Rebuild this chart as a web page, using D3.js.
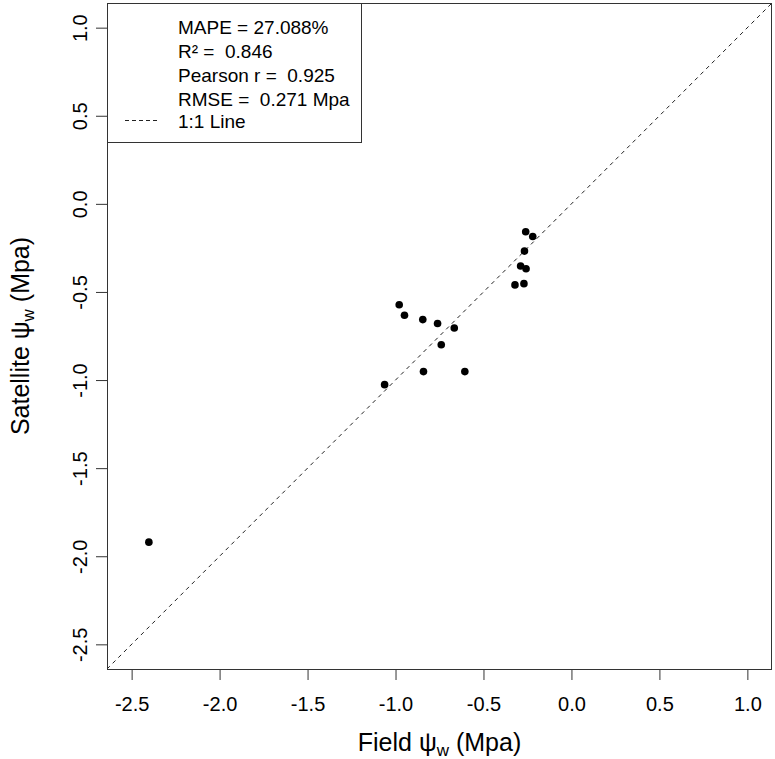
<!DOCTYPE html>
<html>
<head>
<meta charset="utf-8">
<script src="https://cdn.jsdelivr.net/npm/d3@7"></script>
<style>
  html, body { margin: 0; padding: 0; background: #fff; }
  svg { display: block; font-family: "Liberation Sans", Arial, sans-serif; }
  text { white-space: pre; }
</style>
</head>
<body>
<svg id="chart" width="775" height="759"></svg>
<script>
// ---- data ----
const fieldPsi = [-0.26, -0.22, -0.267, -0.289, -0.258, -0.321, -0.27, -0.979, -0.949, -0.845, -0.761, -0.666, -0.74, -0.841, -0.606, -1.062, -2.402];
const satellitePsi = [-0.158, -0.185, -0.268, -0.353, -0.368, -0.46, -0.453, -0.573, -0.632, -0.657, -0.679, -0.705, -0.8, -0.952, -0.952, -1.026, -1.92];
const tickValues = [-2.5, -2.0, -1.5, -1.0, -0.5, 0.0, 0.5, 1.0];
const axisLimits = [-2.64, 1.14];
const legendLines = ["MAPE = 27.088%", "R\u00B2 =  0.846", "Pearson r =  0.925", "RMSE =  0.271 Mpa"];
const lineLabel = "1:1 Line";

// ---- layout ----
const L = 107, R = 772, T = 3, B = 669;
const svg = d3.select("#chart");
const x = d3.scaleLinear().domain(axisLimits).range([L, R]);
const y = d3.scaleLinear().domain(axisLimits).range([B, T]);
const fmt = d => d.toFixed(1);

// 1:1 line
svg.append("line")
  .attr("x1", x(axisLimits[0])).attr("y1", y(axisLimits[0]))
  .attr("x2", x(axisLimits[1])).attr("y2", y(axisLimits[1]))
  .attr("stroke", "#222").attr("stroke-width", 1)
  .attr("stroke-dasharray", "4,4");

// points
svg.append("g").selectAll("circle")
  .data(fieldPsi.map((v, i) => [v, satellitePsi[i]]))
  .join("circle")
  .attr("cx", d => x(d[0])).attr("cy", d => y(d[1]))
  .attr("r", 3.8).attr("fill", "#000");

// x axis
const gx = svg.append("g").attr("transform", `translate(0,${B})`)
  .call(d3.axisBottom(x).tickValues(tickValues).tickFormat(fmt).tickSize(11).tickPadding(17));
gx.select(".domain").remove();
gx.selectAll("line").attr("stroke", "#333");
gx.selectAll("text").attr("font-size", 20).attr("font-family", "Liberation Sans, Arial, sans-serif").attr("fill", "#000");

// y axis
const gy = svg.append("g").attr("transform", `translate(${L},0)`)
  .call(d3.axisLeft(y).tickValues(tickValues).tickFormat(fmt).tickSize(11));
gy.select(".domain").remove();
gy.selectAll("line").attr("stroke", "#333");
gy.selectAll("text")
  .attr("transform", "rotate(-90)")
  .attr("x", 0).attr("y", -20).attr("dy", 0)
  .attr("text-anchor", "middle")
  .attr("font-size", 20).attr("font-family", "Liberation Sans, Arial, sans-serif").attr("fill", "#000");

// plot box
svg.append("rect").attr("x", L + 0.5).attr("y", T + 0.5)
  .attr("width", R - L - 1).attr("height", B - T)
  .attr("fill", "none").attr("stroke", "#333").attr("stroke-width", 1);

// axis titles
function title(g, label) {
  const t = g.append("text").attr("font-size", 25).attr("fill", "#000");
  t.append("tspan").text(label + " ");
  t.append("tspan").text("\u03C8");
  t.append("tspan").attr("font-size", 17).attr("dy", 5).text("w");
  t.append("tspan").attr("dy", -5).text(" (Mpa)");
  return t;
}
title(svg.append("g"), "Field")
  .attr("x", (L + R) / 2).attr("y", 751).attr("text-anchor", "middle");
title(svg.append("g").attr("transform", `translate(29,${(T + B) / 2}) rotate(-90)`), "Satellite")
  .attr("x", 0).attr("y", 0).attr("text-anchor", "middle");

// legend
const lg = svg.append("g");
lg.append("rect").attr("x", L + 0.5).attr("y", T + 0.5).attr("width", 254).attr("height", 139)
  .attr("fill", "#fff").attr("stroke", "#333");
const baselines = [33.5, 57.5, 81.5, 105.5];
lg.selectAll("text.stat").data(legendLines).join("text")
  .attr("class", "stat")
  .attr("x", 178).attr("y", (d, i) => baselines[i])
  .attr("font-size", 19).attr("fill", "#000").text(d => d);
lg.append("line").attr("x1", 125).attr("x2", 158).attr("y1", 120.5).attr("y2", 120.5)
  .attr("stroke", "#222").attr("stroke-dasharray", "4,3");
lg.append("text").attr("x", 178).attr("y", 128).attr("font-size", 19).attr("fill", "#000").text(lineLabel);
</script>
</body>
</html>
